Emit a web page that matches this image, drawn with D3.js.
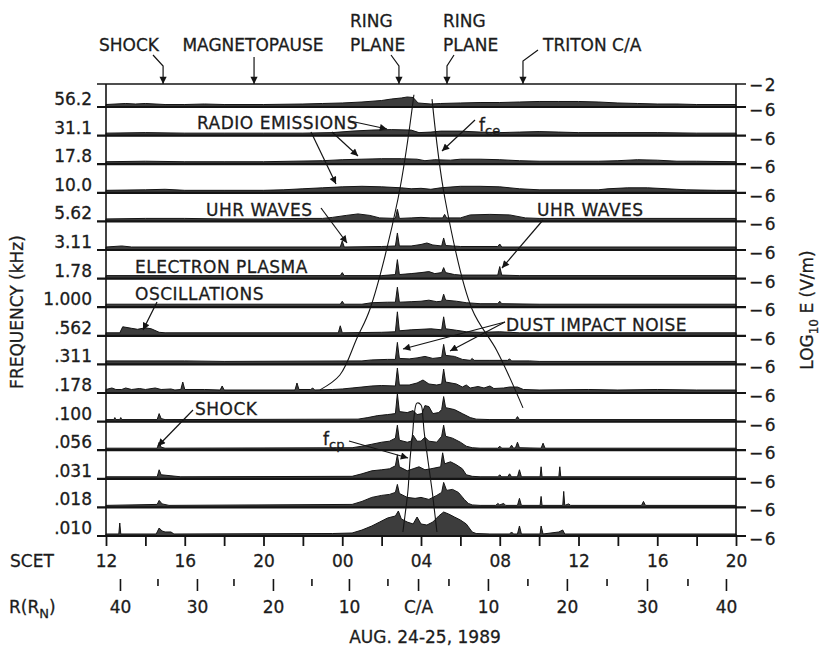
<!DOCTYPE html>
<html>
<head>
<meta charset="utf-8">
<script src="https://cdn.jsdelivr.net/npm/d3@7"></script>
<style>
	body { margin: 0; background: #fff; }
	svg text { font-family: "DejaVu Sans", sans-serif; fill: #1c1c1c; font-size: 17px; stroke: #1c1c1c; stroke-width: 0.3; }
</style>
</head>
<body>
<svg id="chart" width="821" height="651"></svg>
<script>
// channel labels (kHz), top to bottom
const freqLabels = ["56.2", "31.1", "17.8", "10.0", "5.62", "3.11", "1.78", "1.000", ".562", ".311", ".178", ".100", ".056", ".031", ".018", ".010"];

// SCET hours counted from Aug 24 00:00
const scetTicks = [12, 14, 16, 18, 20, 22, 24, 26, 28, 30, 32, 34, 36, 38, 40, 42, 44];
const scetLabels = ["12", "", "16", "", "20", "", "00", "", "04", "", "08", "", "12", "", "16", "", "20"];
const rMajorHours = [12.71, 16.62, 20.48, 24.34, 27.85, 31.40, 35.41, 39.48, 43.49];
const rMajorLabels = ["40", "30", "20", "10", "C/A", "10", "20", "30", "40"];
const rMinorHours = [14.64, 18.50, 22.46, 26.32, 29.42, 33.43, 37.45, 41.56];

const eventNames = ["SHOCK", "MAGNETOPAUSE", "RING PLANE", "RING PLANE", "TRITON C/A"];
const eventHours = [14.9, 19.52, 26.88, 29.32, 33.18];

// [hour, log10 E (V/m)] per channel
const ch56_2 = [[12,-5.57],[13,-5.39],[13.5,-5.48],[14,-5.39],[15,-5.57],[16,-5.57],[17,-5.48],[18,-5.57],[20,-5.57],[22,-5.48],[23,-5.39],[24,-5.3],[25,-5.13],[26,-4.87],[26.5,-4.61],[27,-4.43],[27.3,-4.26],[27.6,-4.35],[27.85,-5.3],[28.5,-5.48],[29,-5.39],[30,-5.3],[31,-5.22],[32,-5.22],[33,-5.13],[34,-5.04],[35,-5.04],[36,-5.04],[37,-5.13],[38,-5.3],[39,-5.39],[40,-5.48],[41,-5.48],[42,-5.57],[44,-5.57]];
const ch31_1 = [[12,-5.57],[14,-5.48],[16,-5.57],[18,-5.57],[20,-5.57],[22,-5.57],[23.5,-5.48],[24.5,-5.22],[25.5,-5.04],[26.5,-4.96],[27.5,-5.04],[27.9,-5.48],[28.5,-5.39],[29,-5.22],[30,-5.22],[31,-5.39],[32,-5.48],[33,-5.39],[34,-5.3],[35,-5.39],[36,-5.48],[38,-5.48],[40,-5.48],[42,-5.57],[44,-5.57]];
const ch17_8 = [[12,-5.57],[14,-5.48],[16,-5.57],[18,-5.57],[20,-5.57],[21.5,-5.48],[23,-5.39],[24,-5.22],[25,-5.13],[26,-5.04],[27,-5.04],[27.8,-5.13],[28.2,-5.39],[28.7,-5.22],[29.5,-5.3],[30,-5.13],[31,-5.13],[32,-5.22],[33,-5.39],[34,-5.48],[37,-5.48],[38,-5.39],[39,-5.22],[40,-5.3],[41,-5.48],[42,-5.48],[44,-5.57]];
const ch10_0 = [[12,-5.57],[14,-5.48],[15,-5.39],[16,-5.57],[18,-5.57],[20,-5.57],[21,-5.48],[22,-5.3],[23,-5.13],[24,-4.96],[25,-4.87],[26,-4.96],[27,-5.13],[27.5,-5.3],[28,-5.22],[28.5,-5.39],[29,-5.13],[30,-4.87],[31,-4.87],[32,-4.96],[33,-5.3],[34,-5.48],[37,-5.48],[37.5,-5.3],[38.5,-5.13],[39.5,-5.13],[40.5,-5.3],[41.5,-5.48],[43,-5.57],[44,-5.57]];
const ch5_62 = [[12,-5.57],[14,-5.48],[16,-5.48],[18,-5.57],[20,-5.57],[22,-5.48],[23,-5.48],[23.5,-5.3],[24.2,-4.96],[24.8,-4.7],[25.4,-4.96],[25.9,-5.39],[26.7,-5.48],[26.8,-3.91],[26.9,-5.48],[27.5,-5.39],[28,-5.3],[28.5,-5.39],[29.1,-5.39],[29.2,-4.78],[29.3,-5.39],[30,-5.39],[30.5,-4.87],[31.5,-4.78],[32.5,-4.87],[33.3,-5.39],[34,-5.48],[44,-5.48]];
const ch3_11 = [[12,-5.48],[12.8,-5.3],[13.3,-5.48],[23.9,-5.48],[24,-4.43],[24.1,-5.48],[26,-5.39],[26.7,-5.3],[26.8,-3.04],[26.9,-5.3],[27.5,-5.3],[28,-5.04],[28.3,-4.78],[28.6,-5.13],[29.05,-5.3],[29.15,-3.91],[29.25,-5.22],[29.6,-5.3],[30,-5.39],[31.9,-5.39],[32,-4.96],[32.1,-5.48],[44,-5.48]];
const ch1_78 = [[12,-5.48],[23.9,-5.48],[24,-4.96],[24.1,-5.48],[26,-5.48],[26.7,-5.3],[26.8,-2.7],[26.9,-5.3],[27.5,-5.13],[28,-4.96],[28.4,-4.78],[28.7,-5.13],[29.05,-4.96],[29.15,-4.09],[29.25,-4.96],[29.7,-5.3],[30,-5.39],[31.9,-5.39],[32,-3.91],[32.1,-5.39],[33,-5.48],[44,-5.48]];
const ch1_000 = [[12,-5.48],[23.9,-5.48],[24,-4.96],[24.1,-5.48],[25,-5.48],[25.5,-5.22],[26.3,-5.13],[26.7,-5.13],[26.8,-2.52],[26.9,-5.13],[27.5,-5.04],[28,-4.96],[28.4,-4.78],[28.8,-5.04],[29.05,-4.96],[29.15,-3.74],[29.25,-4.78],[29.8,-4.96],[30.3,-5.22],[31,-5.39],[31.9,-5.39],[32,-4.96],[32.1,-5.39],[34,-5.48],[44,-5.48]];
const ch_562 = [[12,-5.48],[12.7,-5.48],[12.85,-4.43],[13.3,-4.7],[13.6,-4.87],[14,-4.61],[14.3,-4.78],[14.7,-5.39],[15,-5.48],[23.8,-5.48],[23.9,-4.26],[24,-5.48],[26,-5.39],[26.7,-5.3],[26.8,-1.83],[26.9,-5.13],[27.5,-4.96],[28,-4.87],[28.5,-4.78],[29.05,-4.96],[29.15,-2.7],[29.25,-4.78],[29.8,-5.04],[30.3,-5.3],[31,-5.39],[32,-5.3],[33,-5.48],[44,-5.48]];
const ch_311 = [[12,-5.39],[16,-5.39],[18,-5.48],[25,-5.39],[25.5,-5.22],[26.3,-5.13],[26.7,-5.13],[26.8,-2.17],[26.9,-4.96],[27.4,-5.04],[27.8,-4.87],[28.2,-4.61],[28.6,-4.96],[29.05,-4.78],[29.15,-2.52],[29.25,-4.43],[29.7,-4.61],[30.1,-5.13],[30.5,-5.3],[30.6,-4.96],[30.7,-5.3],[31.5,-5.3],[32.4,-5.3],[32.5,-5.04],[32.6,-5.39],[33.5,-5.39],[34,-5.48],[44,-5.48]];
const ch_178 = [[12,-5.39],[12.3,-5.13],[12.5,-5.39],[12.8,-5.39],[13,-5.13],[13.3,-5.39],[13.7,-5.22],[14,-5.39],[14.5,-5.13],[14.8,-5.39],[15.3,-5.3],[15.5,-5.48],[15.8,-5.39],[15.9,-4.09],[16,-5.39],[17,-5.39],[17.8,-5.48],[17.9,-4.78],[18,-5.48],[21.6,-5.48],[21.7,-4.26],[21.8,-5.39],[22.4,-5.39],[22.5,-5.13],[22.6,-5.48],[23.5,-5.39],[24,-5.3],[24.5,-5.13],[25,-4.96],[25.5,-4.78],[26,-4.7],[26.7,-4.78],[26.8,-1.65],[26.9,-4.61],[27.4,-4.61],[27.8,-4.26],[28.1,-3.74],[28.4,-4.43],[28.8,-4.61],[29.05,-4.43],[29.15,-1.83],[29.25,-4.09],[29.8,-4.43],[30.1,-4.96],[30.3,-4.61],[30.5,-5.13],[30.9,-4.87],[31.2,-5.13],[31.5,-4.78],[31.7,-5.22],[32.2,-5.13],[32.5,-4.96],[32.9,-4.96],[33.2,-5.39],[34,-5.48],[36.5,-5.39],[38,-5.48],[40,-5.39],[42,-5.48],[44,-5.48]];
const ch_100 = [[12,-5.65],[12.4,-5.65],[12.45,-5.3],[12.5,-5.65],[12.7,-5.65],[12.75,-5.3],[12.8,-5.65],[14.6,-5.65],[14.7,-4.61],[14.8,-5.48],[15,-5.65],[24.8,-5.57],[25.3,-5.3],[25.8,-4.96],[26.3,-4.78],[26.7,-4.61],[26.8,-1.13],[26.9,-4.26],[27.3,-4.43],[27.6,-4.09],[27.8,-4.78],[28.05,-4.61],[28.2,-3.22],[28.4,-3.39],[28.6,-4.61],[28.9,-4.43],[29.05,-3.91],[29.15,-1.65],[29.25,-3.57],[29.7,-3.91],[30.1,-4.61],[30.5,-5.3],[30.8,-5.57],[31.5,-5.65],[32.8,-5.65],[32.9,-5.13],[33,-5.65],[44,-5.65]];
const ch_056 = [[12,-5.65],[14.6,-5.65],[14.7,-4.61],[14.8,-5.48],[15,-5.65],[24.5,-5.57],[25,-5.3],[25.5,-4.96],[26,-4.61],[26.4,-4.43],[26.7,-3.91],[26.8,-1.65],[26.9,-4.26],[27.3,-4.61],[27.5,-4.43],[27.6,-3.39],[27.8,-4.43],[28,-4.43],[28.2,-3.74],[28.4,-4.43],[28.8,-4.61],[29.05,-3.57],[29.15,-1.65],[29.25,-3.57],[29.6,-3.91],[30,-4.61],[30.3,-5.3],[30.6,-5.57],[31,-5.65],[31.9,-5.65],[32,-5.3],[32.1,-5.65],[32.5,-5.65],[32.6,-5.13],[32.7,-5.65],[32.8,-5.57],[32.9,-4.61],[33,-5.57],[34.1,-5.65],[34.2,-4.78],[34.3,-5.65],[44,-5.65]];
const ch_031 = [[12,-5.65],[14.6,-5.65],[14.7,-4.43],[14.8,-5.3],[15.3,-5.48],[15.8,-5.65],[24.5,-5.57],[25,-5.13],[25.5,-4.61],[26,-4.43],[26.4,-4.26],[26.7,-3.74],[26.8,-1.83],[26.9,-3.91],[27.3,-4.61],[27.6,-4.26],[27.9,-3.91],[28.2,-4.43],[28.5,-4.26],[29,-3.91],[29.1,-1.48],[29.2,-3.39],[29.5,-3.04],[29.8,-3.57],[30.1,-4.26],[30.3,-5.3],[30.6,-5.57],[31,-5.65],[31.9,-5.65],[32,-5.3],[32.1,-5.65],[32.4,-5.65],[32.5,-5.13],[32.6,-5.65],[32.9,-5.65],[33,-4.43],[33.1,-5.65],[34.05,-5.65],[34.1,-3.91],[34.15,-5.65],[35,-5.65],[35.05,-3.91],[35.1,-5.65],[44,-5.65]];
const ch_018 = [[12,-5.65],[14.6,-5.48],[14.7,-4.78],[14.85,-5.39],[15.2,-5.65],[24.5,-5.48],[25,-4.96],[25.5,-4.26],[26,-3.91],[26.4,-3.74],[26.7,-3.39],[26.8,-2],[26.9,-3.57],[27.3,-4.26],[27.7,-4.43],[28,-4.26],[28.4,-4.61],[28.8,-3.91],[29.05,-3.39],[29.15,-1.65],[29.3,-3.04],[29.6,-2.87],[29.9,-3.39],[30.2,-4.61],[30.4,-5.3],[30.6,-5.57],[31,-5.65],[31.8,-5.65],[31.9,-5.3],[32,-5.57],[32.2,-5.3],[32.3,-5.65],[32.9,-5.65],[33,-4.43],[33.1,-5.65],[34.05,-5.65],[34.1,-4.09],[34.15,-5.65],[35.2,-5.65],[35.25,-3.22],[35.3,-5.65],[35.5,-5.39],[35.6,-5.65],[39.2,-5.65],[39.3,-4.96],[39.4,-5.65],[44,-5.65]];
const ch_010 = [[12,-5.65],[12.65,-5.65],[12.7,-3.74],[12.75,-5.65],[14.55,-5.65],[14.6,-5.3],[14.7,-4.61],[14.85,-5.13],[15,-5.3],[15.3,-5.3],[15.45,-5.65],[23.5,-5.57],[24.5,-5.48],[25,-4.96],[25.5,-4.26],[25.9,-3.57],[26.3,-2.87],[26.7,-2.52],[26.85,-1.65],[27,-3.04],[27.3,-3.57],[27.6,-3.91],[27.8,-2.7],[28,-3.91],[28.3,-4.09],[28.6,-3.57],[28.9,-2.52],[29.15,-1.83],[29.4,-2.17],[29.7,-2.7],[30,-3.22],[30.3,-3.91],[30.6,-5.3],[30.8,-5.57],[31.5,-5.65],[32.5,-5.65],[32.6,-5.3],[32.7,-5.65],[32.9,-5.65],[33,-4.26],[33.1,-5.65],[34.05,-5.65],[34.1,-4.26],[34.2,-5.65],[35,-5.3],[35.2,-4.96],[35.3,-5.65],[44,-5.65]];

const channels = [ch56_2, ch31_1, ch17_8, ch10_0, ch5_62, ch3_11, ch1_78, ch1_000, ch_562, ch_311, ch_178, ch_100, ch_056, ch_031, ch_018, ch_010];

// cyclotron frequency curves, [hour, kHz]
const fceLeft = [[27.64,60],[26.83,7.36],[25.41,0.805],[24.75,0.449],[23.88,0.213],[22.87,0.158]];
const fceRight = [[28.56,55],[29.22,7.36],[30.59,0.805],[31.86,0.346],[33.18,0.11]];
const fcp = [[27.08,0.00904],[27.19,0.01273],[27.34,0.02105],[27.44,0.0385],[27.59,0.0704],[27.64,0.0897],[27.79,0.121],[28.0,0.1166],[28.1,0.0897],[28.15,0.0704],[28.35,0.0385],[28.56,0.02105],[28.71,0.01273],[28.81,0.00904]];

const svg = d3.select("#chart");
const ink = "#141414";

const x = d3.scaleLinear().domain([12, 44]).range([106, 736]);
const row = d3.scalePoint().domain(freqLabels).range([107, 536]);
const yE = d3.scaleLinear().domain([-6, -2]).range([0, -23]);
const yF = d3.scaleLog().domain([56.2, 0.01]).range([98, 527]);

const frameTop = row(freqLabels[0]) + yE(-2);
const frameBottom = row(freqLabels[freqLabels.length - 1]);

svg.append("rect").attr("width", 821).attr("height", 651).attr("fill", "#fff");

svg.append("defs").append("marker")
	.attr("id", "ah")
	.attr("viewBox", "0 0 10 10")
	.attr("refX", 10).attr("refY", 5)
	.attr("markerWidth", 7).attr("markerHeight", 6)
	.attr("orient", "auto")
	.append("path").attr("d", "M0,0L10,5L0,10z").attr("fill", ink);

// traces
let area = d3.area()
	.x((d) => { return x(d[0]); })
	.y0(0)
	.y1((d) => { return yE(d[1]); });

channels.forEach((c, i) => {
	svg.append("g")
		.attr("transform", "translate(0," + row(freqLabels[i]) + ")")
		.append("path")
		.datum(c)
		.attr("d", area)
		.attr("fill", "#3d3d3d")
		.attr("stroke", ink)
		.attr("stroke-width", 1)
		.attr("stroke-linejoin", "round");
});

// baselines with ticks on both sides
svg.append("g").selectAll("line")
	.data(freqLabels)
	.enter().append("line")
	.attr("x1", 97).attr("x2", 746)
	.attr("y1", (d) => { return row(d); })
	.attr("y2", (d) => { return row(d); })
	.attr("stroke", ink).attr("stroke-width", 2.2);

// frame
svg.append("line").attr("x1", 97).attr("x2", 746).attr("y1", frameTop).attr("y2", frameTop)
	.attr("stroke", ink).attr("stroke-width", 1.6);
[x(12), x(44)].forEach((px) => {
	svg.append("line").attr("x1", px).attr("x2", px).attr("y1", frameTop).attr("y2", frameBottom)
		.attr("stroke", ink).attr("stroke-width", 1.6);
});

// left labels
svg.append("g").selectAll("text")
	.data(freqLabels)
	.enter().append("text")
	.attr("x", 92)
	.attr("y", (d) => { return row(d) - 2; })
	.attr("text-anchor", "end")
	.text((d) => { return d; });

// right labels
svg.append("text").attr("x", 749).attr("y", frameTop + 7).attr("letter-spacing", 1.5).text("\u22122");
svg.append("g").selectAll("text")
	.data(freqLabels)
	.enter().append("text")
	.attr("x", 749)
	.attr("y", (d) => { return row(d) + 9; })
	.attr("letter-spacing", 1.5)
	.text("\u22126");

// axis titles
svg.append("text")
	.attr("transform", "translate(23,312) rotate(-90)")
	.attr("text-anchor", "middle")
	.text("FREQUENCY (kHz)");

let logT = svg.append("text")
	.attr("transform", "translate(813,310) rotate(-90)")
	.attr("text-anchor", "middle");
logT.append("tspan").text("LOG");
logT.append("tspan").attr("font-size", 12).attr("dy", 5).text("10");
logT.append("tspan").attr("dy", -5).text(" E (V/m)");

// SCET axis
let scetAxis = d3.axisBottom(x)
	.tickValues(scetTicks)
	.tickSize(10)
	.tickPadding(9)
	.tickFormat((d, i) => { return scetLabels[i]; });
let gs = svg.append("g").attr("transform", "translate(0," + frameBottom + ")").call(scetAxis);
gs.select(".domain").remove();
gs.selectAll("line").attr("stroke", ink).attr("stroke-width", 1.8);
gs.selectAll("text").attr("font-size", 17).attr("font-family", "DejaVu Sans").attr("fill", "#1c1c1c");

// R axis
let rAxis = d3.axisBottom(x)
	.tickValues(rMajorHours)
	.tickSize(12)
	.tickPadding(10)
	.tickFormat((d, i) => { return rMajorLabels[i]; });
let gr = svg.append("g").attr("transform", "translate(0,579)").call(rAxis);
gr.select(".domain").remove();
gr.selectAll("line").attr("stroke", ink).attr("stroke-width", 1.6);
gr.selectAll("text").attr("font-size", 17).attr("font-family", "DejaVu Sans").attr("fill", "#1c1c1c");

svg.append("g").selectAll("line")
	.data(rMinorHours)
	.enter().append("line")
	.attr("x1", (d) => { return x(d); })
	.attr("x2", (d) => { return x(d); })
	.attr("y1", 579).attr("y2", 586)
	.attr("stroke", ink).attr("stroke-width", 1.6);

svg.append("text").attr("x", 10).attr("y", 567).text("SCET");
let rT = svg.append("text").attr("x", 9).attr("y", 613);
rT.append("tspan").text("R(R");
rT.append("tspan").attr("font-size", 13).attr("dy", 5).text("N");
rT.append("tspan").attr("dy", -5).text(")");

svg.append("text").attr("x", 425).attr("y", 643).attr("text-anchor", "middle")
	.attr("font-size", 16).text("AUG. 24-25, 1989");

// cyclotron curves
let fLine = d3.line()
	.x((d) => { return x(d[0]); })
	.y((d) => { return yF(d[1]); })
	.curve(d3.curveCatmullRom);

[fceLeft, fceRight, fcp].forEach((c) => {
	svg.append("path").datum(c).attr("d", fLine)
		.attr("fill", "none").attr("stroke", ink).attr("stroke-width", 1.1);
});

// event markers above the frame
let bends = [[153, 55, 10], [254, 57, 0], [391, 55, 8], [454, 55, -7], [538, 50, -14]];
eventNames.forEach((name, i) => {
	let tip = x(eventHours[i]);
	let b = bends[i];
	let pts = b[2] === 0 ? [[tip, b[1]], [tip, frameTop]] : [[b[0], b[1]], [tip, b[1] + 11], [tip, frameTop]];
	svg.append("path")
		.attr("d", d3.line()(pts))
		.attr("fill", "none").attr("stroke", ink).attr("stroke-width", 1.2)
		.attr("marker-end", "url(#ah)");
});

svg.append("text").attr("x", 129).attr("y", 51).attr("text-anchor", "middle").text(eventNames[0]);
svg.append("text").attr("x", 253).attr("y", 51).attr("text-anchor", "middle").text(eventNames[1]);
[350, 443].forEach((px) => {
	svg.append("text").attr("x", px).attr("y", 27).text("RING");
	svg.append("text").attr("x", px).attr("y", 51).text("PLANE");
});
svg.append("text").attr("x", 543).attr("y", 51).text(eventNames[4]);

// annotations inside the panels
let notes = [
	["RADIO EMISSIONS", 197, 129],
	["UHR WAVES", 206, 216],
	["UHR WAVES", 537, 216],
	["ELECTRON PLASMA", 135, 273],
	["OSCILLATIONS", 135, 300],
	["DUST IMPACT NOISE", 506, 331],
	["SHOCK", 195, 415]
];
notes.forEach((n) => {
	svg.append("text").attr("x", n[1]).attr("y", n[2]).attr("letter-spacing", 0.5).text(n[0]);
});

let fce = svg.append("text").attr("x", 479).attr("y", 131);
fce.append("tspan").text("f");
fce.append("tspan").attr("font-size", 13).attr("dy", 4).text("ce");
let fcpT = svg.append("text").attr("x", 323).attr("y", 445);
fcpT.append("tspan").text("f");
fcpT.append("tspan").attr("font-size", 13).attr("dy", 4).text("cp");

let arrows = [
	[[350, 121], [387, 129]],
	[[332, 132], [358, 156]],
	[[311, 132], [336, 184]],
	[[475, 120], [442, 151]],
	[[321, 208], [347, 243]],
	[[543, 220], [502, 268]],
	[[157, 302], [143, 330]],
	[[505, 322], [403, 349]],
	[[505, 322], [450, 351]],
	[[193, 410], [158, 446]],
	[[349, 441], [408, 458]]
];
arrows.forEach((a) => {
	svg.append("path")
		.attr("d", d3.line()(a))
		.attr("fill", "none").attr("stroke", ink).attr("stroke-width", 1.2)
		.attr("marker-end", "url(#ah)");
});
</script>
</body>
</html>
